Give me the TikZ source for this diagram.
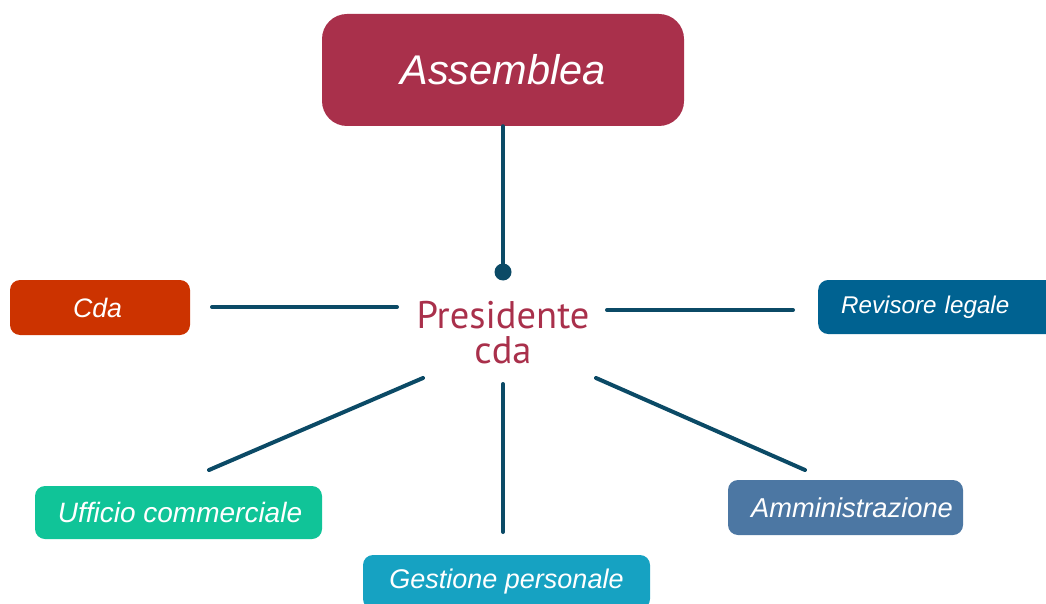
\documentclass[tikz,border=0pt]{standalone}
\usepackage{fontspec}
\setmainfont{Liberation Sans}
\newfontfamily\presfont{PT Sans}
\definecolor{assem}{HTML}{A9304B}
\definecolor{cdac}{HTML}{CC3300}
\definecolor{revc}{HTML}{006291}
\definecolor{uffc}{HTML}{10C498}
\definecolor{gesc}{HTML}{16A2C2}
\definecolor{ammc}{HTML}{4C77A3}
\definecolor{linec}{HTML}{0B4A66}
\begin{document}
\begin{tikzpicture}[x=1pt,y=-1pt,
  box/.style={rounded corners=10pt, text=white, inner sep=0pt},
  link/.style={draw=linec, line width=4pt, line cap=round}]
\useasboundingbox (0,0) rectangle (1046,604);
\node[box, fill=assem, minimum width=362pt, minimum height=112pt, rounded corners=25pt,
  font=\itshape\fontsize{41.5}{45}\selectfont] (assem) at (503,70) {\raisebox{-3pt}{Assemblea}};
\node[circle, fill=linec, inner sep=0pt, minimum size=17pt] (dot) at (503,272) {};
\node[text=assem, font=\presfont\fontsize{38.5}{35}\selectfont, align=center, inner sep=0pt] (pres) at (503,333) {Presidente\\cda};
\node[box, fill=cdac, minimum width=180pt, minimum height=55pt,
  font=\itshape\fontsize{26.7}{30}\selectfont] (cda) at (100,307.5) {Cda\hspace*{5pt}};
\node[box, fill=revc, anchor=west, minimum height=54pt, text width=215pt, align=left, inner xsep=23pt,
  font=\itshape\fontsize{24.2}{28}\selectfont] (rev) at (818,307) {Revisore legale};
\node[box, fill=uffc, minimum width=287pt, minimum height=53pt,
  font=\itshape\fontsize{28}{32}\selectfont] (uff) at (178.5,512.5) {\hspace*{3pt}Ufficio commerciale};
\node[box, fill=gesc, minimum width=287pt, minimum height=54pt,
  font=\itshape\fontsize{27}{31}\selectfont] (ges) at (506.5,582) {Gestione personale};
\node[box, fill=ammc, minimum width=235pt, minimum height=55pt,
  font=\itshape\fontsize{27.3}{31}\selectfont] (amm) at (845.5,507.5) {\hspace*{13pt}Amministrazione};
\coordinate (la) at (212,307);
\coordinate (lb) at (397,307);
\coordinate (ra) at (607,310);
\coordinate (rb) at (793,310);
\coordinate (dla) at (423,378);
\coordinate (dlb) at (209,470);
\coordinate (dca) at (503,384);
\coordinate (dcb) at (503,532);
\coordinate (dra) at (596,378);
\coordinate (drb) at (805,470);
\draw[link] (assem.south) -- (dot.center);
\draw[link] (la) -- (lb);
\draw[link] (ra) -- (rb);
\draw[link] (dla) -- (dlb);
\draw[link] (dca) -- (dcb);
\draw[link] (dra) -- (drb);
\end{tikzpicture}
\end{document}
